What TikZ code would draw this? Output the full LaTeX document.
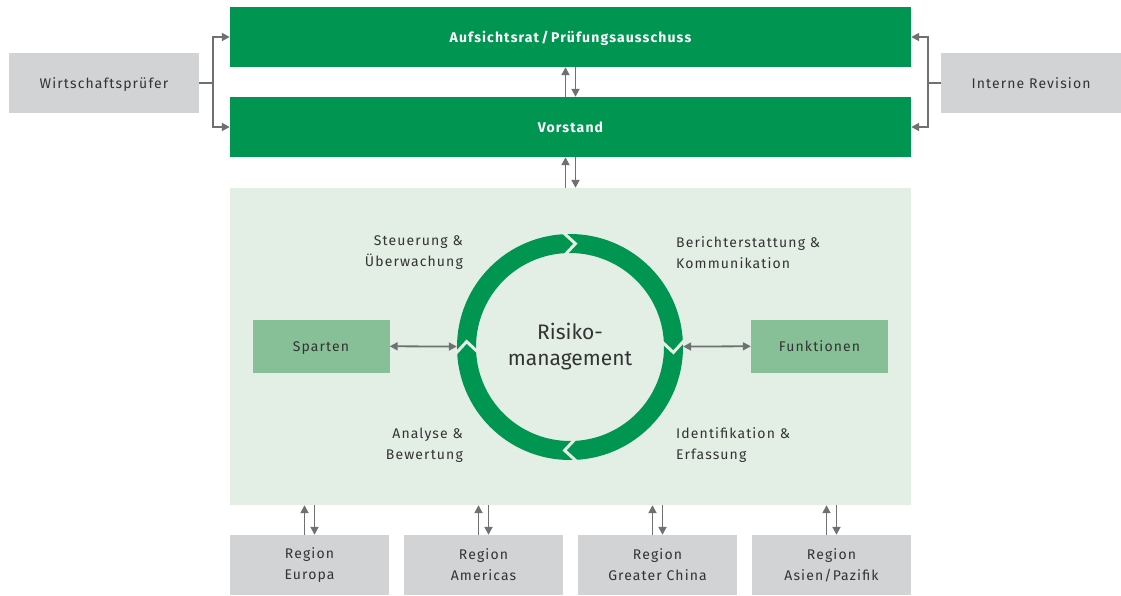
\documentclass[tikz,border=0pt]{standalone}
\usepackage{fontspec}
\setmainfont{Fira Sans}[LetterSpace=8]
\newfontfamily\ringfont{Fira Sans}
\usetikzlibrary{positioning, arrows.meta, calc}

\definecolor{dkgreen}{HTML}{009550}
\definecolor{bggreen}{HTML}{E3EFE5}
\definecolor{midgreen}{HTML}{87C097}
\definecolor{boxgray}{HTML}{D2D3D5}
\definecolor{arrgray}{HTML}{6F7072}

\begin{document}
\begin{tikzpicture}[
  x=1pt, y=-1pt,
  > = {Triangle[length=8pt, width=8pt]},
  font=\fontsize{14}{21}\selectfont,
  bar/.style={fill=dkgreen, text=white, font=\fontsize{14}{21}\selectfont\bfseries,
              minimum width=681pt, minimum height=60pt, inner sep=0pt,
              text height=12pt, text depth=1pt},
  side/.style={fill=boxgray, text=black!80, minimum width=190pt,
               minimum height=60pt, inner sep=0pt,
               text height=12pt, text depth=1pt},
  unit/.style={fill=midgreen, text=black!80, minimum width=137pt,
               minimum height=53pt, inner sep=0pt,
               text height=12pt, text depth=1pt},
  region/.style={fill=boxgray, text=black!80, minimum width=159pt,
                 minimum height=60pt, inner sep=0pt, align=center},
  step label/.style={text=black!80, inner sep=0pt, align=#1},
  arr/.style={->, arrgray, line width=1.8pt},
  biarr/.style={<->, arrgray, line width=1.8pt},
  link/.style={arrgray, line width=1.8pt}
]
  \useasboundingbox (0,0) rectangle (1121,595);

  % top
  \node[bar]  (ar) at (570.5, 37)  {Aufsichtsrat\,/\,Prüfungsausschuss};
  \node[bar]  (vs) at (570.5, 127) {Vorstand};
  \node[side] (wp) at (104, 83)    {Wirtschaftsprüfer};
  \node[side, minimum width=180pt] (ir) at (1031, 83) {Interne Revision};

  \coordinate (wpj) at (213, 83);
  \coordinate (irj) at (928, 83);
  \draw[link] (wp) -- (wpj);
  \draw[arr] (wpj) |- (ar.west);
  \draw[arr] (wpj) |- (vs.west);
  \draw[link] (ir) -- (irj);
  \draw[arr] (irj) |- (ar.east);
  \draw[arr] (irj) |- (vs.east);

  % risk area
  \node[fill=bggreen, minimum width=681pt, minimum height=317pt, inner sep=0pt]
    (rm) at (570.5, 346.5) {};

  \draw[arr] ([xshift=-5pt]vs.north) -- ([xshift=-5pt]ar.south);
  \draw[arr] ([xshift=5pt]ar.south)  -- ([xshift=5pt]vs.north);
  \draw[arr] ([xshift=-5pt]rm.north) -- ([xshift=-5pt]vs.south);
  \draw[arr] ([xshift=5pt]vs.south)  -- ([xshift=5pt]rm.north);

  % ring
  \node[circle, minimum size=226pt, inner sep=0pt, align=center,
        font=\ringfont\fontsize{21}{26}\selectfont, text=black!80]
    (ring) at (570, 347) {Risiko-\\management};
  \draw[dkgreen, line width=19pt] (ring.center) circle[radius=103.5];
  \foreach \a in {-90, 0, 90, 180}
    \draw[bggreen, line width=3pt]
      ($(ring.center)+(\a-4:116)$) -- ($(ring.center)+(\a+3:103.5)$)
      -- ($(ring.center)+(\a-4:91)$);

  \node[step label=right, anchor=east] (su) at (463, 253) {Steuerung \&\\Überwachung};
  \node[step label=left, anchor=west]  (bk) at (676, 253) {Berichterstattung \&\\Kommunikation};
  \node[step label=right, anchor=east] (ab) at (463, 445) {Analyse \&\\Bewertung};
  \node[step label=left, anchor=west]  (ie) at (676, 445) {Identifikation \&\\Erfassung};

  \node[unit] (sp) at (321, 346) {Sparten};
  \node[unit] (fk) at (819.5, 346) {Funktionen};
  \draw[biarr] (sp) -- (ring);
  \draw[biarr] (fk) -- (ring);

  % regions
  \node[region] (eu) at (309.5, 565) {Region\\Europa};
  \node[region] (am) at (483.5, 565) {Region\\Americas};
  \node[region] (gc) at (657.5, 565) {Region\\Greater China};
  \node[region] (ap) at (831.5, 565) {Region\\Asien/Pazifik};

  \foreach \r in {eu, am, gc, ap} {
    \draw[arr] ([xshift=-5pt]\r.north) -- ([xshift=-5pt]\r.north |- rm.south);
    \draw[arr] ([xshift=5pt]\r.north |- rm.south) -- ([xshift=5pt]\r.north);
  }
\end{tikzpicture}
\end{document}
